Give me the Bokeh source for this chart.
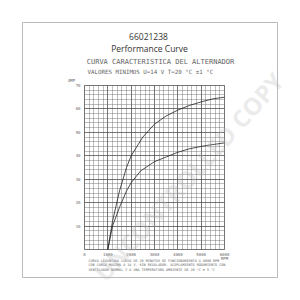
from bokeh.plotting import figure
from bokeh.models import Range1d, FixedTicker, Label, Grid, ColumnDataSource
from bokeh.core.properties import value
from bokeh.embed import file_html
from bokeh.resources import INLINE

# ---- data ----
rpm_upper = [1000, 1200, 1500, 1800, 2000, 2500, 3000, 3500, 4000, 4500, 5000, 5500, 6000]
amp_upper = [0, 12, 25, 35, 40, 48, 53.5, 57, 59.5, 61.5, 63, 64.3, 65]
rpm_lower = [1000, 1200, 1500, 1800, 2000, 2400, 3000, 3500, 4000, 4500, 5000, 5500, 6000]
amp_lower = [0, 10, 18, 25, 28.5, 33.5, 37.5, 39.5, 41.5, 43, 44, 44.8, 45.5]
x_ticks = [0, 1000, 2000, 3000, 4000, 5000, 6000]
x_labels = ["0", "1000", "2000", "3000", "4000", "5000", "6000"]
y_ticks = [10, 20, 30, 40, 50, 60, 70]
y_labels = ["10", "20", "30", "40", "50", "60", "70"]
x_minor_step = 200
y_minor_step = 2
code = "66021238"
subtitle = "Performance Curve"
chart_title = "CURVA CARACTERISTICA DEL ALTERNADOR"
chart_sub = "VALORES MINIMOS  U=14 V    T=20 °C ±1 °C"
notes = [
    "CURVA LEVANTADA LUEGO DE 20 MINUTOS DE FUNCIONAMIENTO A 4000 RPM",
    "CON CARGA MAXIMA A 14 V. SIN REGULADOR. ACOPLAMIENTO RODAMIENTO CON",
    "VENTILADOR NORMAL Y A UNA TEMPERATURA AMBIENTE DE 20 °C ± 5 °C",
]
watermark = "UNCONTROLLED COPY"

# grid area geometry (pixels in the 300x300 canvas)
FL, FR, FT, FB = 84, 224, 85, 249
W = H = 300
XMAX, YMAX = 6000, 70
def px2x(px):
    return (px - FL) * XMAX / (FR - FL)
def py2y(py):
    return (FB - py) * YMAX / (FB - FT)

p = figure(width=W, height=H, output_backend="svg", toolbar_location=None,
           x_range=Range1d(px2x(0), px2x(W)), y_range=Range1d(py2y(H), py2y(0)),
           x_axis_location=None, y_axis_location=None, min_border=0)
p.background_fill_color = "white"
p.border_fill_color = "white"
p.outline_line_color = None
p.grid.visible = False

mono = "DejaVu Sans Mono"
x_minor = list(range(0, XMAX + 1, x_minor_step))
y_minor = list(range(0, YMAX + 1, y_minor_step))
for dim, ticks, minor, bnds, cross in ((0, x_ticks, x_minor, (0, XMAX), (0, YMAX)),
                                       (1, [0] + y_ticks, y_minor, (0, YMAX), (0, XMAX))):
    g = Grid(dimension=dim, ticker=FixedTicker(ticks=ticks, minor_ticks=minor),
             bounds=bnds, cross_bounds=cross,
             grid_line_color="#444444", grid_line_width=0.6,
             minor_grid_line_color="#666666", minor_grid_line_width=0.5,
             minor_grid_line_alpha=0.85)
    p.add_layout(g)

p.line(rpm_upper, amp_upper, line_color="#222222", line_width=0.8)
p.line(rpm_lower, amp_lower, line_color="#222222", line_width=0.8)

# tick labels drawn through the data scales
xs = ColumnDataSource(dict(x=x_ticks, y=[0] * len(x_ticks), t=x_labels))
p.text(x="x", y="y", text="t", source=xs, text_font=value(mono), text_font_size="4px",
       text_color="#666666", text_align="center", text_baseline="top", y_offset=3)
ys = ColumnDataSource(dict(x=[0] * len(y_ticks), y=y_ticks, t=y_labels))
p.text(x="x", y="y", text="t", source=ys, text_font=value(mono), text_font_size="4px",
       text_color="#666666", text_align="right", text_baseline="middle", x_offset=-4)

# outer frame box
p.quad(left=px2x(22), right=px2x(277), top=py2y(22), bottom=py2y(277),
       fill_alpha=0, line_color="#bbbbbb", line_width=1)

def lab(text, px, py, size, font=mono, color="#666666", align="center", **kw):
    p.add_layout(Label(x=px2x(px), y=py2y(py), text=text, text_font=font,
                       text_font_size=size, text_color=color, text_align=align,
                       text_baseline="middle", **kw))

lab(code, 148, 36, "8.5px", font="Open Sans", color="#333333")
lab(subtitle, 149, 48, "8.5px", font="Open Sans", color="#333333")
lab(chart_title, 160, 61, "7px")
lab(chart_sub, 87, 71, "5.8px", align="left")
lab("AMP", 71, 80, "4px")
lab("RPM", 224, 258, "4px")
for i, t in enumerate(notes):
    lab(t, 88, 260 + i * 4.5, "3.4px", align="left")

p.add_layout(Label(x=px2x(188), y=py2y(176), text=watermark, text_font="Open Sans",
                   text_font_size="24px", text_font_style="bold", text_color="#bbbbbb",
                   text_alpha=0.3, angle=0.84, text_align="center", text_baseline="middle"))

open("out.html", "w").write(file_html(p, INLINE))
